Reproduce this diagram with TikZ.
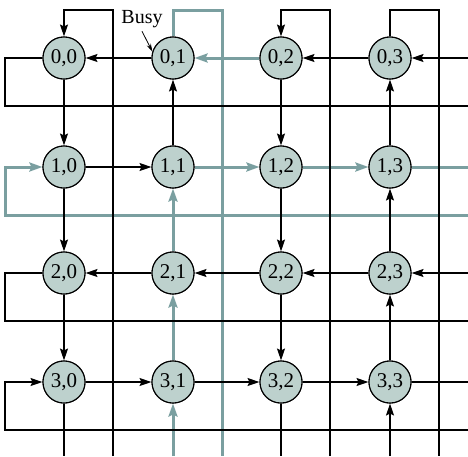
\documentclass[tikz,border=0pt]{standalone}
\usepackage{fontspec}
\setmainfont{Liberation Serif}
\usetikzlibrary{arrows.meta, positioning, calc}
\definecolor{NodeFill}{RGB}{189,209,205}
\definecolor{BusyTeal}{RGB}{122,159,160}

\begin{document}
\begin{tikzpicture}[x=1pt,y=-1pt,
    pe/.style={circle,draw=black,line width=1.1pt,fill=NodeFill,
               minimum size=42pt,inner sep=0pt,
               font=\fontsize{21}{23}\selectfont},
    wire/.style={draw=black,line width=1.2pt},
    arr/.style={wire,-{Stealth[length=12pt,width=8pt,inset=2pt]}},
    busy/.style={draw=BusyTeal,line width=3pt},
    busyarr/.style={busy,-{Stealth[length=13pt,width=9pt,inset=2pt]}}
  ]
    \useasboundingbox (0,0) rectangle (468,456);
    % processing elements
    \foreach \r/\y in {0/58,1/167,2/273,3/382}
      \foreach \c/\x in {0/64,1/173,2/281,3/390}
        \node[pe] (n\r\c) at (\x,\y) {\r,\c};
    % free ends of the wrap-around links
    \foreach \r/\y in {0/58,1/167,2/273,3/382} {
      \coordinate (rl\r) at (5,\y);
      \coordinate (rr\r) at (468,\y);
      \coordinate (bl\r) at (5,\y+48);
      \coordinate (br\r) at (468,\y+48);
    }
    \foreach \c/\x in {0/64,1/173,2/281,3/390} {
      \coordinate (ct\c) at (\x,10);
      \coordinate (cb\c) at (\x,456);
      \coordinate (wt\c) at (\x+49,10);
      \coordinate (wb\c) at (\x+49,456);
    }

    % busy path (drawn first, under the black lines)
    \draw[busyarr] (br1) -- (bl1) -- (rl1) -- (n10);
    \draw[busyarr] (n11) -- (n12);
    \draw[busyarr] (n12) -- (n13);
    \draw[busy] (n13) -- (rr1);
    \draw[busyarr] (n02) -- (n01);
    \draw[busy] (n01) -- (ct1) -- (wt1) -- (wb1);
    \draw[busyarr] (cb1) -- (n31);
    \draw[busyarr] (n31) -- (n21);
    \draw[busyarr] (n21) -- (n11);

    % row 0, leftward
    \draw[arr] (rr0) -- (n03);
    \draw[arr] (n03) -- (n02);
    \draw[arr] (n01) -- (n00);
    \draw[wire] (n00) -- (rl0) -- (bl0) -- (br0);
    % row 1, rightward
    \draw[arr] (n10) -- (n11);
    % row 2, leftward
    \draw[arr] (rr2) -- (n23);
    \draw[arr] (n23) -- (n22);
    \draw[arr] (n22) -- (n21);
    \draw[arr] (n21) -- (n20);
    \draw[wire] (n20) -- (rl2) -- (bl2) -- (br2);
    % row 3, rightward
    \draw[arr] (br3) -- (bl3) -- (rl3) -- (n30);
    \draw[arr] (n30) -- (n31);
    \draw[arr] (n31) -- (n32);
    \draw[arr] (n32) -- (n33);
    \draw[wire] (n33) -- (rr3);

    % column 0, downward
    \draw[arr] (wb0) -- (wt0) -- (ct0) -- (n00);
    \draw[arr] (n00) -- (n10);
    \draw[arr] (n10) -- (n20);
    \draw[arr] (n20) -- (n30);
    \draw[wire] (n30) -- (cb0);
    % column 1, upward
    \draw[arr] (n11) -- (n01);
    % column 2, downward
    \draw[arr] (wb2) -- (wt2) -- (ct2) -- (n02);
    \draw[arr] (n02) -- (n12);
    \draw[arr] (n12) -- (n22);
    \draw[arr] (n22) -- (n32);
    \draw[wire] (n32) -- (cb2);
    % column 3, upward
    \draw[arr] (cb3) -- (n33);
    \draw[arr] (n33) -- (n23);
    \draw[arr] (n23) -- (n13);
    \draw[arr] (n13) -- (n03);
    \draw[wire] (n03) -- (ct3) -- (wt3) -- (wb3);

    % redraw the nodes on top of the wires
    \foreach \r/\y in {0/58,1/167,2/273,3/382}
      \foreach \c/\x in {0/64,1/173,2/281,3/390}
        \node[pe] at (\x,\y) {\r,\c};

    % label
    \node[font=\fontsize{20}{22}\selectfont] (lbl) at (142,19) {Busy};
    \draw[line width=0.8pt,-{Stealth[length=8pt,width=4.5pt]}]
      (lbl.south) -- (n01.163);
\end{tikzpicture}
\end{document}
